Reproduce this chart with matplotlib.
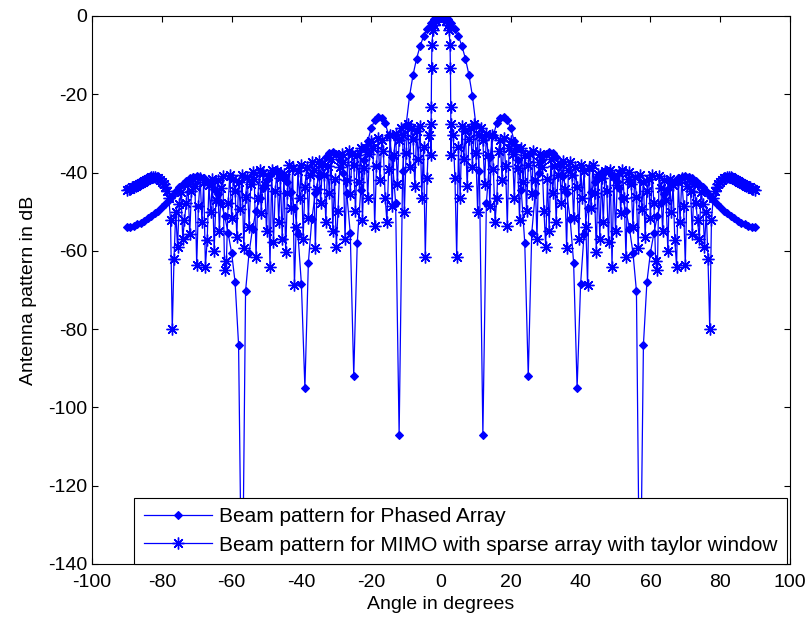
import numpy as np
import matplotlib
matplotlib.use('Agg')
import matplotlib.pyplot as plt

plt.rcParams['font.family'] = ['Liberation Sans', 'DejaVu Sans']
plt.rcParams['axes.unicode_minus'] = False

# ---- data (right half, pattern is symmetric about 0 deg) ----
phased_angle_half = list(range(0, 91))
phased_db_half = [
    0.0, -0.2, -0.8, -1.8, -3.3, -5.2, -7.7, -10.9, -15.0, -20.4,
    -27.8, -39.7, -107.0, -47.8, -36.1, -30.5, -27.3, -26.0, -25.8, -26.6,
    -28.7, -32.0, -36.9, -44.5, -58.0, -92.0, -55.5, -45.3, -40.0, -36.9,
    -35.2, -34.7, -35.0, -36.0, -38.0, -41.0, -45.3, -51.8, -63.0, -95.0,
    -68.5, -55.6, -49.0, -45.0, -42.4, -40.8, -39.9, -39.6, -39.9, -40.7,
    -42.0, -43.9, -46.5, -49.8, -54.3, -60.5, -70.3, -160.0, -84.0, -68.0,
    -60.5, -55.5, -51.0, -47.8, -45.6, -44.1, -43.0, -42.1, -41.5, -41.1,
    -41.0, -41.1, -41.5, -42.1, -42.9, -43.8, -44.8, -45.9, -47.0, -48.0,
    -48.9, -49.7, -50.4, -51.1, -51.7, -52.3, -52.8, -53.2, -53.6, -53.9,
    -54.0,
]

mimo_angle_half = [
    0.0, 0.5, 1.0, 1.5, 2.0, 2.3, 2.6, 2.7, 2.8, 2.9,
    3.0, 3.5, 4.0, 4.5, 5.0, 5.5, 6.0, 6.5, 7.0, 7.5,
    8.0, 8.5, 9.0, 9.5, 10.0, 10.5, 11.0, 11.5, 12.0, 12.5,
    13.0, 13.5, 14.0, 14.5, 15.0, 15.5, 16.0, 16.5, 17.0, 17.5,
    18.0, 18.5, 19.0, 19.5, 20.0, 20.5, 21.0, 21.5, 22.0, 22.5,
    23.0, 23.5, 24.0, 24.5, 25.0, 25.5, 26.0, 26.5, 27.0, 27.5,
    28.0, 28.5, 29.0, 29.5, 30.0, 30.5, 31.0, 31.5, 32.0, 32.5,
    33.0, 33.5, 34.0, 34.5, 35.0, 35.5, 36.0, 36.5, 37.0, 37.5,
    38.0, 38.5, 39.0, 39.5, 40.0, 40.5, 41.0, 41.5, 42.0, 42.5,
    43.0, 43.5, 44.0, 44.5, 45.0, 45.5, 46.0, 46.5, 47.0, 47.5,
    48.0, 48.5, 49.0, 49.5, 50.0, 50.5, 51.0, 51.5, 52.0, 52.5,
    53.0, 53.5, 54.0, 54.5, 55.0, 55.5, 56.0, 56.5, 57.0, 57.5,
    58.0, 58.5, 59.0, 59.5, 60.0, 60.5, 61.0, 61.5, 62.0, 62.5,
    63.0, 63.5, 64.0, 64.5, 65.0, 65.5, 66.0, 66.5, 67.0, 67.5,
    68.0, 68.5, 69.0, 69.5, 70.0, 70.5, 71.0, 71.5, 72.0, 72.5,
    73.0, 73.5, 74.0, 74.5, 75.0, 75.5, 76.0, 76.5, 77.0, 77.5,
    78.0, 78.5, 79.0, 79.5, 80.0, 80.5, 81.0, 81.5, 82.0, 82.5,
    83.0, 83.5, 84.0, 84.5, 85.0, 85.5, 86.0, 86.5, 87.0, 87.5,
    88.0, 88.5, 89.0, 89.5, 90.0,
]
mimo_db_half = [
    0.0, -0.2, -0.6, -1.3, -2.2, -3.6, -7.4, -13.4, -23.2, -35.5,
    -27.5, -30.5, -41.5, -61.6, -33.5, -46.5, -28.0, -36.5, -29.5, -43.5,
    -31.5, -28.5, -38.5, -27.5, -35.0, -50.2, -30.4, -28.6, -31.8, -43.0,
    -30.2, -35.4, -48.6, -30.3, -39.0, -52.5, -46.4, -34.6, -31.8, -42.0,
    -31.2, -38.4, -53.6, -33.8, -32.0, -35.2, -46.4, -33.6, -38.8, -52.0,
    -33.7, -42.4, -35.6, -49.8, -38.0, -35.2, -45.4, -34.6, -41.8, -57.0,
    -37.2, -35.3, -38.5, -49.7, -59.0, -41.7, -54.8, -36.5, -45.2, -38.4,
    -52.5, -40.7, -37.8, -47.9, -37.0, -44.1, -59.2, -39.3, -37.4, -40.5,
    -51.6, -38.7, -43.8, -56.9, -38.0, -46.6, -39.7, -53.8, -68.8, -38.9,
    -49.0, -38.0, -45.1, -60.2, -40.3, -57.0, -41.5, -52.6, -39.6, -44.7,
    -57.8, -39.3, -64.0, -40.9, -55.0, -43.1, -40.2, -50.3, -39.4, -46.5,
    -61.6, -41.7, -39.8, -42.9, -54.0, -41.1, -46.2, -59.3, -40.7, -49.3,
    -42.4, -56.5, -44.6, -41.6, -51.5, -40.6, -47.7, -62.7, -65.0, -40.8,
    -43.9, -55.0, -42.0, -47.1, -60.1, -41.6, -50.2, -43.3, -57.3, -64.0,
    -42.4, -52.5, -41.5, -48.5, -63.5, -43.5, -41.6, -44.7, -55.8, -42.8,
    -47.9, -52.0, -57.0, -45.0, -48.0, -59.0, -50.0, -62.0, -80.0, -52.0,
    -46.5, -44.6, -43.6, -42.9, -42.3, -41.9, -41.5, -41.3, -41.1, -41.1,
    -41.2, -41.4, -41.6, -41.9, -42.1, -42.4, -42.6, -42.9, -43.1, -43.4,
    -43.6, -43.8, -44.1, -44.3, -44.5,
]

x_ticks = [-100, -80, -60, -40, -20, 0, 20, 40, 60, 80, 100]
y_ticks = [-140, -120, -100, -80, -60, -40, -20, 0]
labels = ['Beam pattern for Phased Array',
          'Beam pattern for MIMO with sparse array with taylor window']


def mirror(a, v):
    a = np.asarray(a, float)
    v = np.asarray(v, float)
    return np.concatenate([-a[:0:-1], a]), np.concatenate([v[:0:-1], v])


pa, pv = mirror(phased_angle_half, phased_db_half)
ma, mv = mirror(mimo_angle_half, mimo_db_half)

fig = plt.figure(figsize=(8.05, 6.21), dpi=100)
ax = fig.add_axes([92 / 805, (621 - 564) / 621, (790 - 92) / 805, (564 - 16) / 621])

blue = '#0000ff'
ax.plot(pa, pv, color=blue, lw=0.9, marker='D', ms=3.6, mew=0.8, label=labels[0])
ax.plot(ma, mv, color=blue, lw=0.9, marker=(8, 2, 0), ms=8.5, mew=1.0, label=labels[1])

ax.set_xlim(-100, 100)
ax.set_ylim(-140, 0)
ax.set_xticks(x_ticks)
ax.set_yticks(y_ticks)
ax.tick_params(direction='in', top=True, right=True, length=4, width=0.8,
               labelsize=14, colors='black')
ax.tick_params(axis='x', pad=7)
for s in ax.spines.values():
    s.set_linewidth(0.8)
    s.set_color('black')

ax.set_xlabel('Angle in degrees', fontsize=14, labelpad=4)
ax.set_ylabel('Antenna pattern in dB', fontsize=14, labelpad=8)

leg = ax.legend(loc='lower right', bbox_to_anchor=(0.995, 0.0), borderaxespad=0,
                fancybox=False, edgecolor='black', framealpha=1, fontsize=15,
                handlelength=3.3, handletextpad=0.3, borderpad=0.45,
                labelspacing=0.45, numpoints=1)
leg.get_frame().set_linewidth(0.8)

fig.savefig('out.png', dpi=100)
